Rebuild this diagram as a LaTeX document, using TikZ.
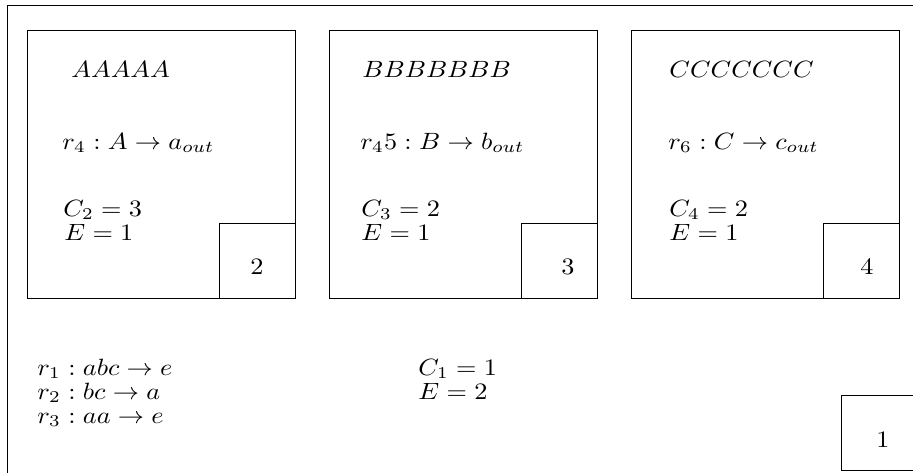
\documentclass[tikz,border=0pt]{standalone}
\usepackage{graphicx}
\newcommand{\sx}[1]{\scalebox{1.36}[1.22]{#1}}
\begin{document}
\begin{tikzpicture}[x=0.518pt,y=-0.518pt,
  bigbox/.style={draw,inner sep=0pt,minimum width=138.8pt,minimum height=138.8pt,anchor=north west},
  numbox/.style={draw,inner sep=0pt,minimum width=39.4pt,minimum height=39pt},
  txt/.style={inner sep=0pt,anchor=base west},
  num/.style={inner sep=0pt,anchor=base}]
\useasboundingbox (0,0) rectangle (913,472);
\clip (0,0) rectangle (913,472);
\node[draw,inner sep=0pt,anchor=north west,minimum width=480pt,minimum height=250pt] (outer) at (7,5) {};
% box A
\node[bigbox] (A) at (27,30) {};
\node[numbox,anchor=south east] (nA) at (A.south east) {};
\node[num] (n2) at (257,274) {\sx{$2$}};
\node[txt] (ta) at (71,77) {\sx{$AAAAA$}};
\node[txt] (ra) at (62,149) {\sx{$r_4 : A \rightarrow a_{out}$}};
\node[txt] (ca) at (63,216) {\sx{$C_2 = 3$}};
\node[txt] (ea) at (64,240) {\sx{$E = 1$}};
% box B
\node[bigbox] (B) at (329,30) {};
\node[numbox,anchor=south east] (nB) at (B.south east) {};
\node[num] (n3) at (568,274) {\sx{$3$}};
\node[txt] (tb) at (362,77) {\sx{$BBBBBBB$}};
\node[txt] (rb) at (360,149) {\sx{$r_45 : B \rightarrow b_{out}$}};
\node[txt] (cb) at (361,216) {\sx{$C_3 = 2$}};
\node[txt] (eb) at (361,240) {\sx{$E = 1$}};
% box C
\node[bigbox] (C) at (631,30) {};
\node[numbox,anchor=south east] (nC) at (C.south east) {};
\node[num] (n4) at (867,274) {\sx{$4$}};
\node[txt] (tc) at (669,77) {\sx{$CCCCCCC$}};
\node[txt] (rc) at (668,149) {\sx{$r_6 : C \rightarrow c_{out}$}};
\node[txt] (cc) at (669,216) {\sx{$C_4 = 2$}};
\node[txt] (ec) at (669,240) {\sx{$E = 1$}};
% bottom
\node[txt] (r1) at (37,375) {\sx{$r_1 : abc \rightarrow e$}};
\node[txt] (r2) at (37,399) {\sx{$r_2 : bc \rightarrow a$}};
\node[txt] (r3) at (37,423) {\sx{$r_3 : aa \rightarrow e$}};
\node[txt] (c1) at (418,375) {\sx{$C_1 = 1$}};
\node[txt] (e1) at (418,399) {\sx{$E = 2$}};
\node[numbox,anchor=north west] (n1box) at (841,395) {};
\node[num] (n1) at (883,447) {\sx{$1$}};
\end{tikzpicture}
\end{document}
